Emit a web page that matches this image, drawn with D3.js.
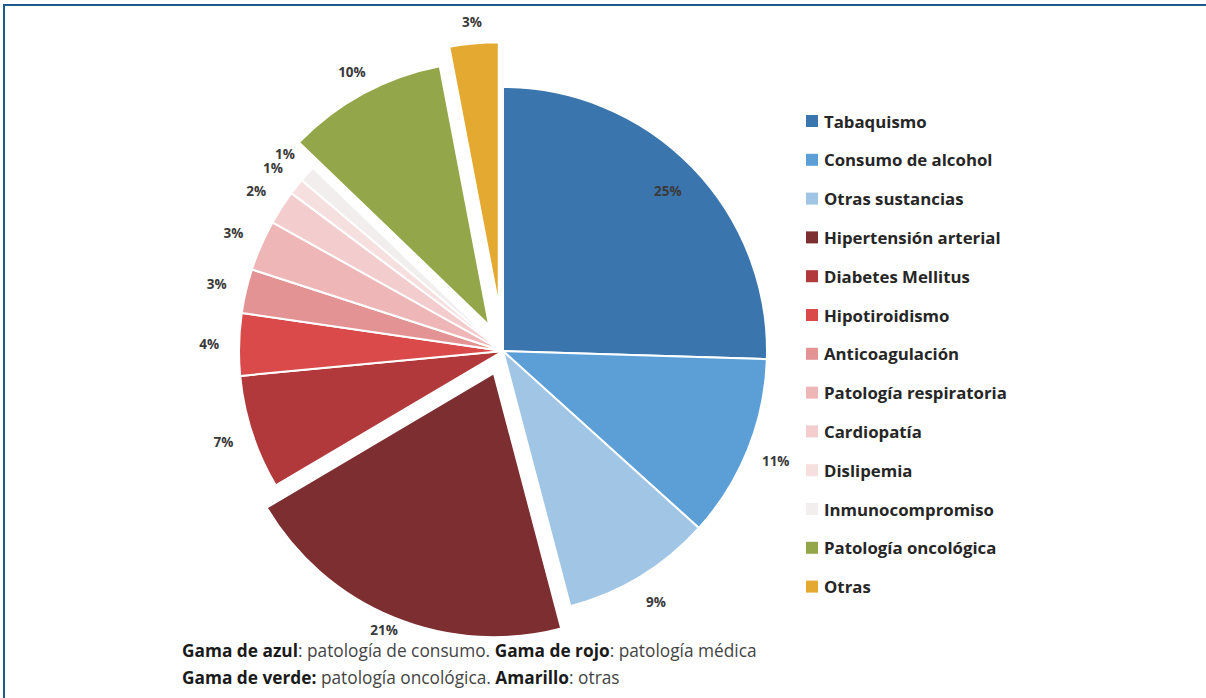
<!DOCTYPE html>
<html>
<head>
<meta charset="utf-8">
<script src="https://cdn.jsdelivr.net/npm/d3@7"></script>
<style>
  body { margin: 0; background: #fff; }
  svg { display: block; }
</style>
</head>
<body>
<div id="chart"></div>
<script>
// data (percent of patients)
const categories = ["Tabaquismo", "Consumo de alcohol", "Otras sustancias", "Hipertensión arterial",
  "Diabetes Mellitus", "Hipotiroidismo", "Anticoagulación", "Patología respiratoria",
  "Cardiopatía", "Dislipemia", "Inmunocompromiso", "Patología oncológica", "Otras"];
const values = [25.49, 11.2, 9.2, 20.6, 7.0, 3.8, 2.7, 3.1, 2.1, 1.0, 1.0, 9.8, 3.0];

const colors = ["#3a75ad", "#5b9fd6", "#a1c5e5", "#7c2e31", "#b1393b", "#da4a4b", "#e39394",
  "#eeb6b6", "#f3cdcd", "#f6e0df", "#f2eeee", "#93a74a", "#e3a930"];
const explode = { "Hipertensión arterial": 24, "Patología oncológica": 29, "Otras": 45 };

const w = 1206, h = 698;
const cx = 503, cy = 351, r = 264;
const font = "'Open Sans', Lato, sans-serif";

const svg = d3.select("#chart").append("svg")
  .attr("width", w)
  .attr("height", h);

// frame
svg.append("path")
  .attr("d", `M4,${h} L4,5 L${w},5`)
  .attr("fill", "none")
  .attr("stroke", "#1d5b8b")
  .attr("stroke-width", 2);

const total = d3.sum(values);
const pct = d3.format(".0%");
const table = categories.map((c, i) => ({ name: c, value: values[i], color: colors[i] }));

const pie = d3.pie().sort(null).value(d => d.value);
const arcs = pie(table);
const arc = d3.arc().innerRadius(0).outerRadius(r);

const g = svg.append("g").attr("transform", `translate(${cx},${cy})`);

const mid = d => (d.startAngle + d.endAngle) / 2;
const shift = d => {
  const off = explode[d.data.name] || 0;
  return [Math.sin(mid(d)) * off, -Math.cos(mid(d)) * off];
};

g.selectAll("path.slice")
  .data(arcs)
  .enter()
  .append("path")
  .attr("class", "slice")
  .attr("d", arc)
  .attr("transform", d => `translate(${shift(d)})`)
  .attr("fill", d => d.data.color)
  .attr("stroke", "#fff")
  .attr("stroke-width", 2)
  .attr("stroke-linejoin", "round");

// labels: outside end, the first one inside
const labelPos = (d, i) => {
  const off = explode[d.data.name] || 0;
  const lr = i === 0 ? r * 0.87 : r + 30 + off * 0.8;
  const x = Math.sin(mid(d)) * lr;
  const y = Math.min(-Math.cos(mid(d)) * lr, 279);
  return [x, y];
};

g.selectAll("text.lbl")
  .data(arcs)
  .enter()
  .append("text")
  .attr("class", "lbl")
  .attr("x", (d, i) => labelPos(d, i)[0])
  .attr("y", (d, i) => labelPos(d, i)[1])
  .attr("text-anchor", "middle")
  .attr("dominant-baseline", "central")
  .attr("font-family", font)
  .attr("font-weight", "bold")
  .attr("font-size", 13.5)
  .attr("fill", "#3a3a3a")
  .text(d => pct(d.data.value / total));

// legend
const legend = svg.append("g").attr("transform", "translate(806,121)");
const item = legend.selectAll("g")
  .data(table)
  .enter()
  .append("g")
  .attr("transform", (d, i) => `translate(0,${i * 38.8})`);

item.append("rect")
  .attr("x", 0)
  .attr("y", -6)
  .attr("width", 12)
  .attr("height", 12)
  .attr("fill", d => d.color);

item.append("text")
  .attr("x", 18)
  .attr("y", 0)
  .attr("dominant-baseline", "central")
  .attr("font-family", font)
  .attr("font-weight", "bold")
  .attr("font-size", 16.8)
  .attr("fill", "#262626")
  .text(d => d.name);

// footnote
const notes = [
  [["Gama de azul", true], [": patología de consumo. ", false], ["Gama de rojo", true], [": patología médica", false]],
  [["Gama de verde:", true], [" patología oncológica. ", false], ["Amarillo", true], [": otras", false]]
];

svg.selectAll("text.note")
  .data(notes)
  .enter()
  .append("text")
  .attr("class", "note")
  .attr("x", 182)
  .attr("y", (d, i) => 657 + i * 27)
  .attr("font-family", font)
  .attr("font-size", 17.3)
  .attr("fill", "#3c3c3c")
  .selectAll("tspan")
  .data(d => d)
  .enter()
  .append("tspan")
  .attr("font-weight", d => d[1] ? "bold" : "normal")
  .attr("fill", d => d[1] ? "#1a1a1a" : "#444")
  .text(d => d[0]);
</script>
</body>
</html>
